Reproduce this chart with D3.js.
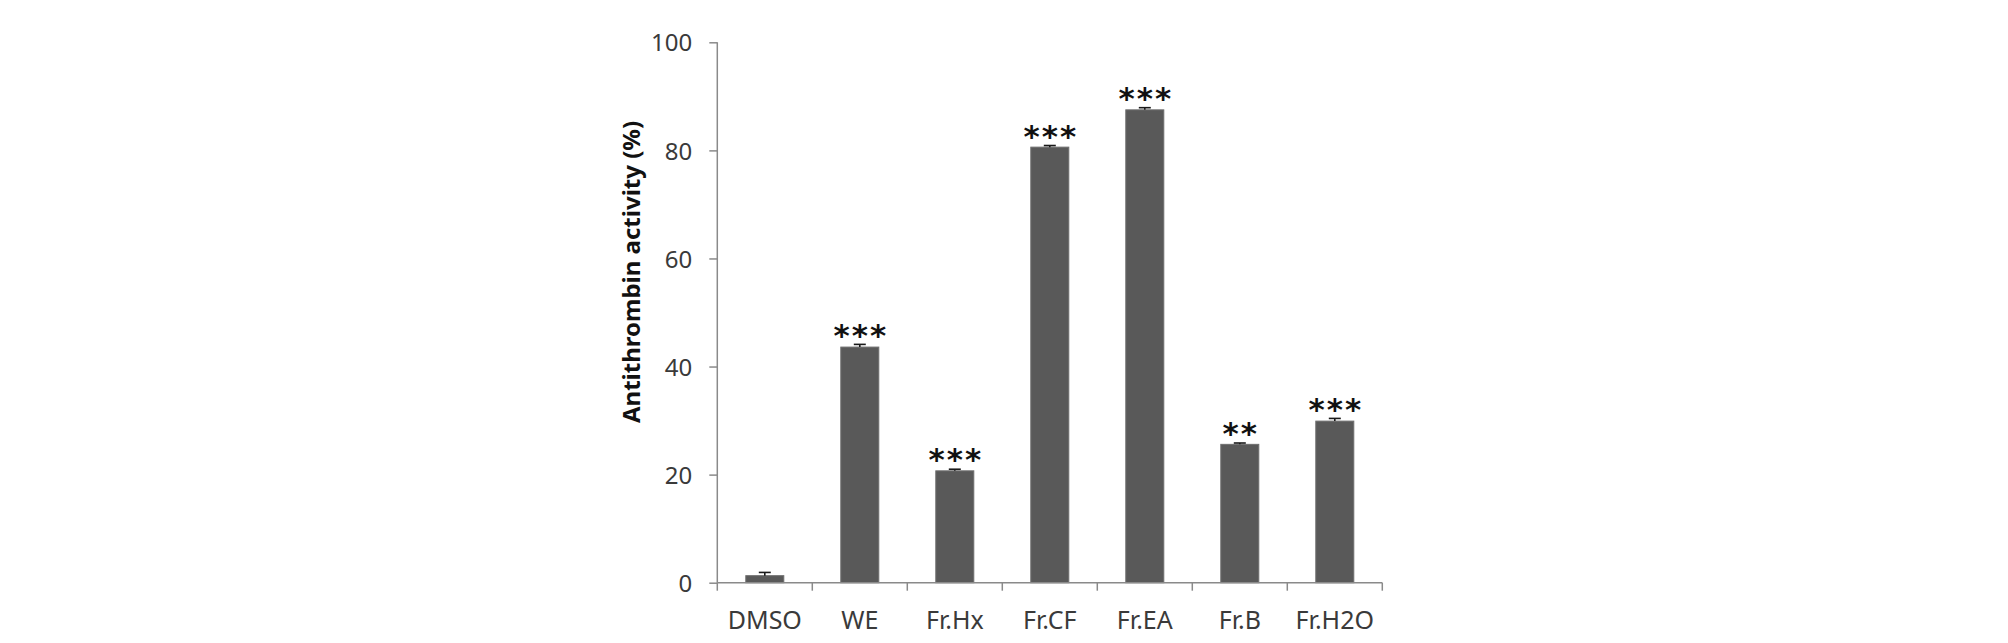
<!DOCTYPE html>
<html>
<head>
<meta charset="utf-8">
<script src="https://cdn.jsdelivr.net/npm/d3@7"></script>
<style>
  html, body { margin: 0; padding: 0; background: #fff; }
  svg { display: block; }
</style>
</head>
<body>
<script>
const categories = ["DMSO", "WE", "Fr.Hx", "Fr.CF", "Fr.EA", "Fr.B", "Fr.H2O"];
const values = [1.3, 43.6, 20.7, 80.6, 87.5, 25.6, 29.9];
const errors = [0.6, 0.5, 0.3, 0.3, 0.4, 0.25, 0.5];
const significance = ["", "***", "***", "***", "***", "**", "***"];
const yTicks = [0, 20, 40, 60, 80, 100];
const yLabel = "Antithrombin activity (%)";

(function () {
const W = 2008, H = 643;
const mLeft = 717.3, mRight = 1382.3, mTop = 42.3, mBottom = 582.7;

const svg = d3.select("body").append("svg").attr("width", W).attr("height", H);

const x = d3.scaleBand().domain(categories).range([mLeft, mRight]).paddingInner(0.6).paddingOuter(0.3);
const y = d3.scaleLinear().domain([0, 100]).range([mBottom, mTop]);

const axisColor = "#8a8a8a";
const textColor = "#3a3a3a";
const font = "'Noto Sans', 'Open Sans', sans-serif";

// bars
svg.append("g").selectAll("rect").data(categories).join("rect")
  .attr("x", d => x(d))
  .attr("width", x.bandwidth())
  .attr("y", (d, i) => y(values[i]))
  .attr("height", (d, i) => y(0) - y(values[i]))
  .attr("fill", "#595959")
  .attr("stroke", "#6e6e6e")
  .attr("stroke-width", 1);

// error bars
const eg = svg.append("g").attr("stroke", "#1a1a1a").attr("stroke-width", 1.6);
categories.forEach((c, i) => {
  const cx = x(c) + x.bandwidth() / 2;
  eg.append("line").attr("x1", cx).attr("x2", cx).attr("y1", y(values[i])).attr("y2", y(values[i] + errors[i]));
  eg.append("line").attr("x1", cx - 6).attr("x2", cx + 6).attr("y1", y(values[i] + errors[i])).attr("y2", y(values[i] + errors[i]));
});

// y axis
const yAxis = svg.append("g").attr("transform", `translate(${mLeft},0)`)
  .call(d3.axisLeft(y).tickValues(yTicks).tickSize(8).tickPadding(17));
yAxis.selectAll("path, line").attr("stroke", axisColor).attr("stroke-width", 1.5);
yAxis.select(".domain").attr("d", `M0,${mBottom}V${mTop}`);
yAxis.selectAll("text").attr("font-family", font).attr("font-size", 24).attr("fill", textColor).attr("dy", "0.36em");

// x axis with boundary ticks
const xg = svg.append("g").attr("transform", `translate(0,${mBottom})`);
xg.append("line").attr("x1", mLeft).attr("x2", mRight).attr("y1", 0).attr("y2", 0)
  .attr("stroke", axisColor).attr("stroke-width", 1.5);
const bounds = categories.map(c => x(c) - x.step() * x.paddingInner() / 2).concat([mRight]);
xg.selectAll("line.tk").data(bounds).join("line").attr("class", "tk")
  .attr("x1", d => d).attr("x2", d => d).attr("y1", 0).attr("y2", 8)
  .attr("stroke", axisColor).attr("stroke-width", 1.5);
xg.selectAll("text").data(categories).join("text")
  .attr("x", d => x(d) + x.bandwidth() / 2)
  .attr("y", 46)
  .attr("text-anchor", "middle")
  .attr("font-family", font).attr("font-size", 25).attr("fill", textColor)
  .text(d => d);

// significance stars
const starFs = 31, starSp = 2;
svg.append("g").selectAll("text").data(categories).join("text")
  .attr("x", d => x(d) + x.bandwidth() / 2 + starSp / 2)
  .attr("y", (d, i) => y(values[i] + errors[i]) - 10 + 0.36 * starFs)
  .attr("text-anchor", "middle")
  .attr("letter-spacing", starSp)
  .attr("font-family", "'DejaVu Sans', sans-serif")
  .attr("font-weight", "bold")
  .attr("font-size", starFs)
  .attr("fill", "#111")
  .text((d, i) => significance[i]);

// y label
svg.append("text")
  .attr("transform", `translate(640,272) rotate(-90)`)
  .attr("text-anchor", "middle")
  .attr("font-family", font).attr("font-weight", "bold").attr("font-size", 24)
  .attr("fill", "#111")
  .text(yLabel);
})();
</script>
</body>
</html>
